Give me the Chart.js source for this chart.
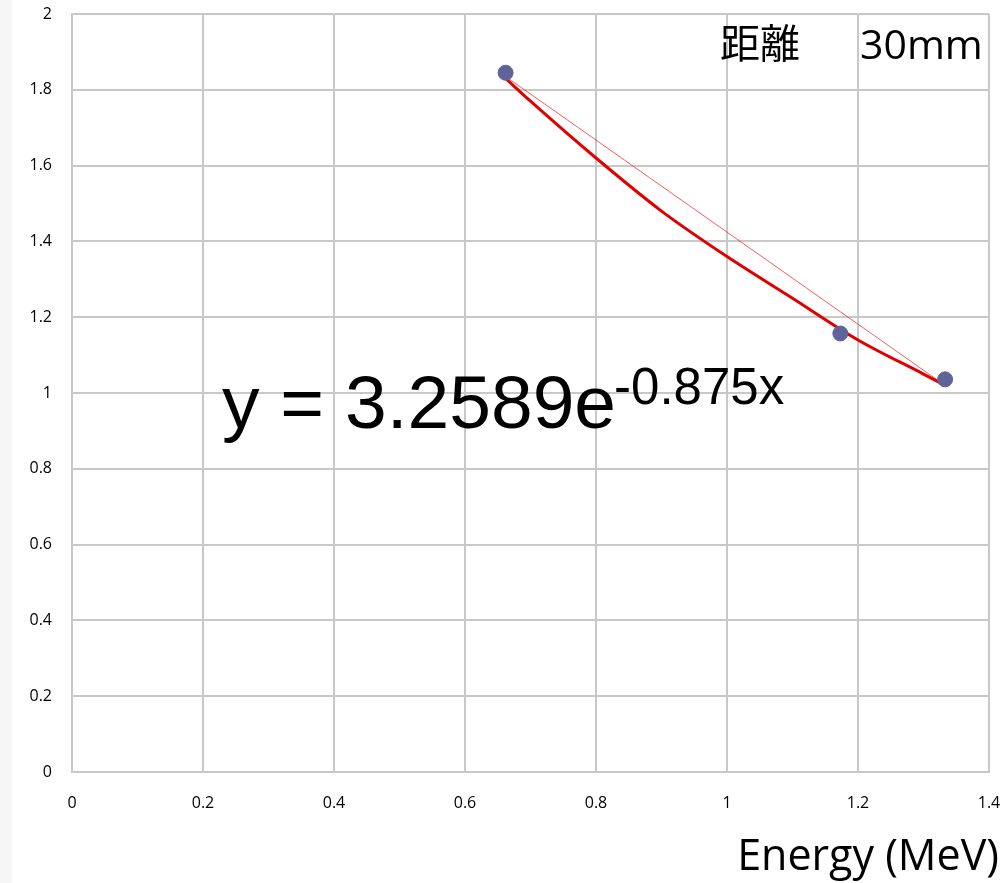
<html lang="ja">
  <head>
    <meta charset="utf-8" />
    <title>Energy (MeV)</title>
    <script src="https://cdn.jsdelivr.net/npm/chart.js@4"></script>
    <style>
* {
  padding: 0;
  margin: 0;
  box-sizing: border-box;
}
body {
  width: 1005px;
  height: 883px;
  background: #ffffff;
  overflow: hidden;
}
.wrapper {
  position: relative;
  width: 1005px;
  height: 883px;
}
    </style>
  </head>
  <body>
    <div class="wrapper">
      <canvas id="chart" width="1005" height="883"></canvas>
    </div>

    <script>
      // measured points
      const energy = [0.662, 1.173, 1.333];
      const values = [1.845, 1.157, 1.036];

      // trendline
      const trendX = [0.662, 0.7, 0.8, 0.9, 1.0, 1.1, 1.2, 1.3, 1.333];
      const trendY = [1.83, 1.77, 1.62, 1.48, 1.36, 1.25, 1.14, 1.05, 1.02];

      // thin straight line between first and last point
      const lineX = [0.662, 1.333];
      const lineY = [1.835, 1.02];

      const xTicks = [0, 0.2, 0.4, 0.6, 0.8, 1, 1.2, 1.4];
      const yTicks = [0, 0.2, 0.4, 0.6, 0.8, 1, 1.2, 1.4, 1.6, 1.8, 2];

      const toPoints = (xs, ys) => xs.map((x, i) => ({ x: x, y: ys[i] }));

      const gridColor = "#c8c8c8";
      const tickFont = { family: "'Open Sans', 'DejaVu Sans', sans-serif", size: 16 };

      // grey strip at the left edge + texts on top of the chart
      const decorations = {
        id: "decorations",
        beforeDraw(chart) {
          const ctx = chart.ctx;
          ctx.save();
          ctx.fillStyle = "#f6f6f6";
          ctx.fillRect(0, 0, 12, chart.height);
          ctx.restore();
        },
        afterDraw(chart) {
          const ctx = chart.ctx;
          ctx.save();
          ctx.fillStyle = "#000000";
          ctx.textBaseline = "alphabetic";
          ctx.textAlign = "left";
          // equation
          ctx.font = "75px 'Liberation Sans', Arial, sans-serif";
          const main = "y = 3.2589e";
          ctx.fillText(main, 222, 428);
          const w = ctx.measureText(main).width;
          ctx.font = "51px 'Liberation Sans', Arial, sans-serif";
          ctx.fillText("-0.875x", 222 + w - 2, 404);
          // distance label
          ctx.font = "40px 'Noto Sans CJK JP', sans-serif";
          ctx.fillText("距離", 720, 58);
          ctx.font = "41px 'Open Sans', sans-serif";
          ctx.fillText("30mm", 860, 59);
          // axis title
          ctx.textAlign = "right";
          ctx.font = "43px 'Open Sans', sans-serif";
          ctx.fillText("Energy (MeV)", 999, 870);
          ctx.restore();
        }
      };

      new Chart(document.getElementById("chart"), {
        type: "scatter",
        plugins: [decorations],
        data: {
          datasets: [
            {
              label: "line",
              data: toPoints(lineX, lineY),
              showLine: true,
              borderColor: "rgba(240, 40, 40, 0.75)",
              borderWidth: 1,
              pointRadius: 0,
              order: 3
            },
            {
              label: "trend",
              data: toPoints(trendX, trendY),
              showLine: true,
              borderColor: "#e00000",
              borderWidth: 3,
              cubicInterpolationMode: "monotone",
              pointRadius: 0,
              order: 2
            },
            {
              label: "data",
              data: toPoints(energy, values),
              backgroundColor: "#5f6398",
              borderColor: "#5f6398",
              pointRadius: 7.5,
              order: 1
            }
          ]
        },
        options: {
          responsive: false,
          animation: false,
          layout: { padding: { top: 14, right: 16, left: 0, bottom: 0 } },
          plugins: {
            legend: { display: false },
            tooltip: { enabled: false }
          },
          scales: {
            x: {
              type: "linear",
              min: 0,
              max: 1.4,
              afterBuildTicks: (scale) => {
                scale.ticks = xTicks.map((v) => ({ value: v }));
              },
              afterFit: (scale) => {
                scale.height = 111;
                scale.paddingLeft = 0;
                scale.paddingRight = 0;
              },
              grid: { color: gridColor, lineWidth: 2, drawTicks: false },
              border: { color: gridColor, width: 2 },
              ticks: {
                color: "#000",
                font: tickFont,
                padding: 22,
                maxRotation: 0,
                callback: (v) => String(v)
              }
            },
            y: {
              type: "linear",
              min: 0,
              max: 2,
              afterBuildTicks: (scale) => {
                scale.ticks = yTicks.map((v) => ({ value: v }));
              },
              afterFit: (scale) => {
                scale.width = 72;
                scale.paddingTop = 0;
                scale.paddingBottom = 0;
              },
              grid: { color: gridColor, lineWidth: 2, drawTicks: false },
              border: { color: gridColor, width: 2 },
              ticks: {
                color: "#000",
                font: tickFont,
                padding: 20,
                callback: (v) => String(v)
              }
            }
          }
        }
      });
    </script>
  </body>
</html>
